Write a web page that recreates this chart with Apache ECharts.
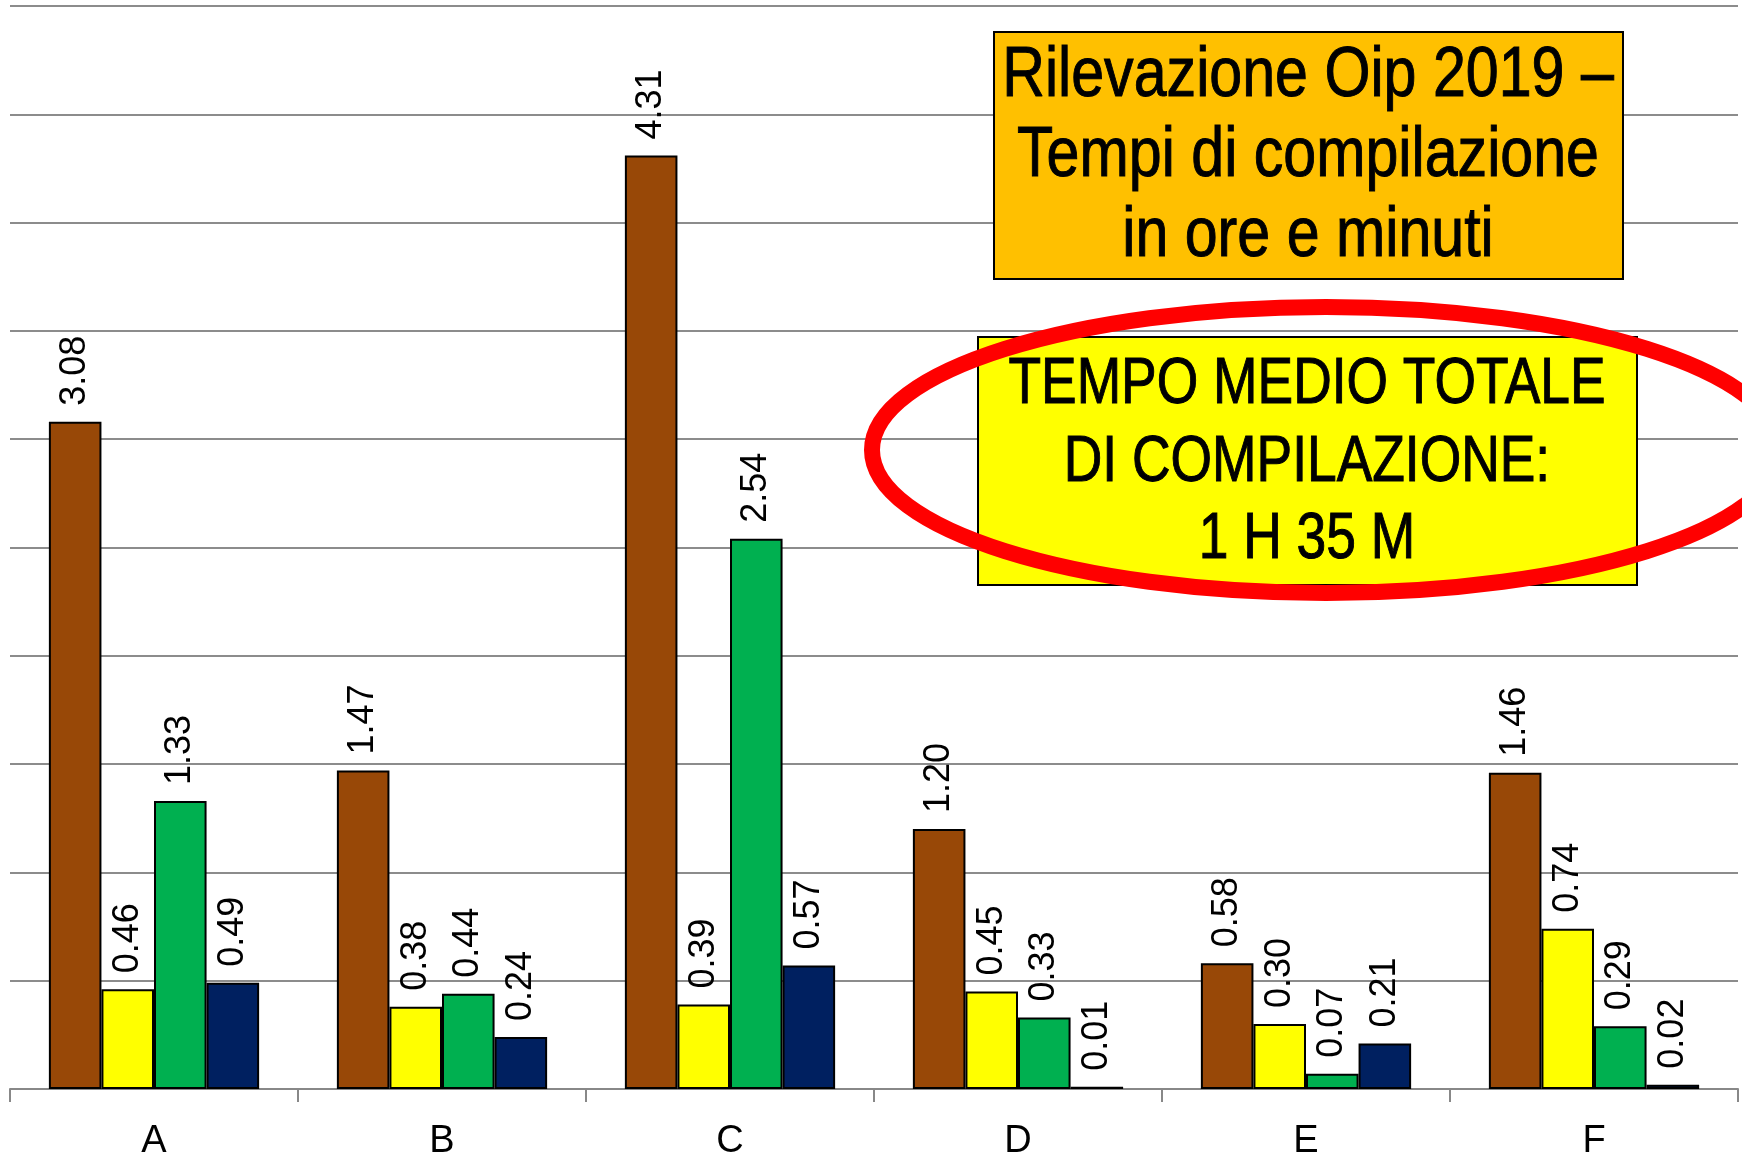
<!DOCTYPE html>
<html>
<head>
<meta charset="utf-8">
<script src="https://cdn.jsdelivr.net/npm/echarts@6/dist/echarts.min.js"></script>
<style>
html,body{margin:0;padding:0;background:#fff;}
#c{width:1742px;height:1168px;}
</style>
</head>
<body>
<div id="c"></div>
<script>
const categories = ['A', 'B', 'C', 'D', 'E', 'F'];
const seriesBrown  = [3.08, 1.47, 4.31, 1.20, 0.58, 1.46];
const seriesYellow = [0.46, 0.38, 0.39, 0.45, 0.30, 0.74];
const seriesGreen  = [1.33, 0.44, 2.54, 0.33, 0.07, 0.29];
const seriesNavy   = [0.49, 0.24, 0.57, 0.01, 0.21, 0.02];
const titleLines = ['Rilevazione Oip 2019 –', 'Tempi di compilazione', 'in ore e minuti'];
const noteLines = ['TEMPO MEDIO TOTALE', 'DI COMPILAZIONE:', '1 H 35 M'];

const FONT = "'Liberation Sans', Arial, sans-serif";
const colors = ['#984807', '#FFFF00', '#00B050', '#002060'];

function mkSeries(data, color) {
  return {
    type: 'bar',
    data: data,
    barGap: '0%',
    barCategoryGap: '27%',
    itemStyle: { color: color, borderColor: '#000', borderWidth: 2 },
    label: {
      show: true,
      position: 'top',
      rotate: 90,
      align: 'left',
      verticalAlign: 'middle',
      distance: 16,
      fontSize: 36,
      fontFamily: FONT,
      color: '#000',
      formatter: p => p.value.toFixed(2)
    }
  };
}

const chart = echarts.init(document.getElementById('c'), null, { renderer: 'canvas' });
chart.setOption({
  animation: false,
  backgroundColor: '#fff',
  grid: { left: 10, right: 4, top: 6, bottom: 79, containLabel: false },
  xAxis: {
    type: 'category',
    data: categories,
    axisLine: { lineStyle: { color: '#888', width: 2 } },
    axisTick: { show: true, alignWithLabel: false, length: 13, lineStyle: { color: '#888', width: 2 } },
    axisLabel: { fontSize: 38, fontFamily: FONT, color: '#000', margin: 34 }
  },
  yAxis: {
    type: 'value',
    min: 0,
    max: 5,
    interval: 0.5,
    axisLabel: { show: false },
    axisLine: { show: false },
    axisTick: { show: false },
    splitLine: { lineStyle: { color: '#8c8c8c', width: 2 } }
  },
  series: [
    mkSeries(seriesBrown, colors[0]),
    mkSeries(seriesYellow, colors[1]),
    mkSeries(seriesGreen, colors[2]),
    mkSeries(seriesNavy, colors[3])
  ],
  graphic: [
    {
      type: 'rect', z: 100,
      shape: { x: 994, y: 32, width: 629, height: 247 },
      style: { fill: '#FFC000', stroke: '#000', lineWidth: 2 }
    },
    {
      type: 'text', z: 101,
      x: 1308, y: 157,
      scaleX: 0.845,
      style: {
        x: 0, y: 0,
        text: titleLines.join('\n'),
        font: '70px ' + FONT,
        fill: '#000',
        stroke: '#000',
        lineWidth: 1,
        textAlign: 'center',
        textVerticalAlign: 'middle',
        lineHeight: 80
      }
    },
    {
      type: 'rect', z: 100,
      shape: { x: 978, y: 337, width: 659, height: 248 },
      style: { fill: '#FFFF00', stroke: '#000', lineWidth: 2 }
    },
    {
      type: 'text', z: 101,
      x: 1307, y: 463,
      scaleX: 0.834,
      style: {
        x: 0, y: 0,
        text: noteLines.join('\n'),
        font: '64px ' + FONT,
        fill: '#000',
        stroke: '#000',
        lineWidth: 1,
        textAlign: 'center',
        textVerticalAlign: 'middle',
        lineHeight: 77.5
      }
    },
    {
      type: 'ellipse', z: 102,
      shape: { cx: 1326, cy: 450, rx: 454, ry: 143 },
      style: { fill: 'none', stroke: '#FF0000', lineWidth: 16 }
    }
  ]
});
</script>
</body>
</html>
